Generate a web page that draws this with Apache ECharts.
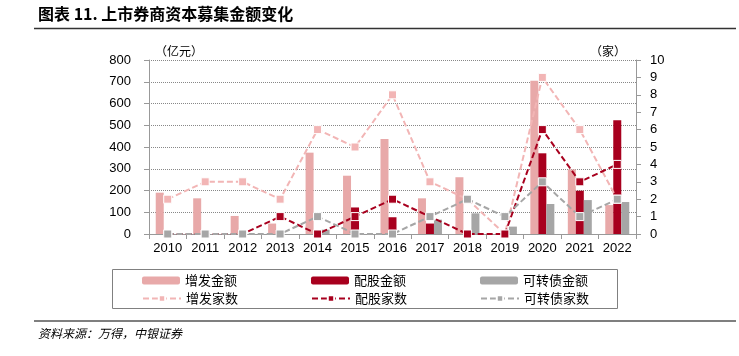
<!DOCTYPE html>
<html><head><meta charset="utf-8">
<script src="https://cdn.jsdelivr.net/npm/echarts@6/dist/echarts.min.js"></script>
<style>html,body{margin:0;padding:0;background:#fff}#c{width:739px;height:356px}</style>
</head><body><div id="c"></div>
<script>
const years = ['2010','2011','2012','2013','2014','2015','2016','2017','2018','2019','2020','2021','2022'];
const zfAmt = [190,164,83,48,374,268,437,164,261,0,705,297,133];
const pgAmt = [0,0,0,0,0,122,77,48,0,0,371,199,523];
const kzzAmt = [0,0,0,0,20,0,0,66,95,34,138,156,147];
const zfCnt = [2,3,3,2,6,5,8,3,2,0,9,6,2];
const pgCnt = [0,0,0,1,0,1,2,1,0,0,6,3,4];
const kzzCnt = [0,0,0,0,1,0,0,1,2,1,3,1,2];
const leftTicks = {min:0,max:800,interval:100};
const rightTicks = {min:0,max:10,interval:1};

const C_PINK_BAR='#E8A9A9', C_PINK_LINE='#F2B5B5', C_RED='#A8001E', C_GRAY='#A6A6A6';
const CJK='"Noto Sans CJK SC", sans-serif';
const NUM='"Liberation Sans", Arial, sans-serif';

function lineSeries(name,data,color){
  return {name,type:'line',yAxisIndex:1,data,symbol:'rect',symbolSize:8,
    lineStyle:{color,width:2,type:[6,3]},
    itemStyle:{color,borderColor:'#fff',borderWidth:1},z:3,animation:false};
}
function barSeries(name,data,color){
  return {name,type:'bar',yAxisIndex:0,data,barWidth:8,barGap:'0%',itemStyle:{color},animation:false};
}
function leg(name,left,top){
  return {data:[name],left,top,itemWidth:38,itemHeight:8,itemGap:0,padding:0,
    textStyle:{fontFamily:CJK,fontSize:13,color:'#000'}};
}
const chart = echarts.init(document.getElementById('c'));
chart.setOption({
  animation:false,
  grid:{left:149,right:103,top:60,bottom:122},
  xAxis:{type:'category',data:years,boundaryGap:true,
    axisLine:{lineStyle:{color:'#999'}},
    axisTick:{show:true,length:5,interval:0,lineStyle:{color:'#999'}},
    axisLabel:{fontFamily:NUM,fontSize:13,color:'#000',margin:8,interval:0}},
  yAxis:[
    {type:'value',...leftTicks,
      axisLine:{show:true,lineStyle:{color:'#999'}},
      axisTick:{show:true,length:5,lineStyle:{color:'#999'}},
      axisLabel:{fontFamily:NUM,fontSize:13,color:'#000',margin:18},
      splitLine:{show:true,lineStyle:{color:'#888',type:'dotted',width:1}}},
    {type:'value',...rightTicks,
      axisLine:{show:true,lineStyle:{color:'#999'}},
      axisTick:{show:true,length:5,lineStyle:{color:'#999'}},
      axisLabel:{fontFamily:NUM,fontSize:13,color:'#000',margin:14},
      splitLine:{show:false}}
  ],
  legend:[
    leg('增发金额',142,274), leg('配股金额',311,274), leg('可转债金额',480,274),
    leg('增发家数',142,292), leg('配股家数',311,292), leg('可转债家数',480,292)
  ],
  series:[
    barSeries('增发金额',zfAmt,C_PINK_BAR),
    barSeries('配股金额',pgAmt,C_RED),
    barSeries('可转债金额',kzzAmt,C_GRAY),
    lineSeries('增发家数',zfCnt,C_PINK_LINE),
    lineSeries('配股家数',pgCnt,C_RED),
    lineSeries('可转债家数',kzzCnt,C_GRAY)
  ],
  graphic:[
    {type:'text',left:38,top:6,style:{text:'图表 11. 上市券商资本募集金额变化',font:'bold 16px '+CJK,fill:'#000'}},
    {type:'line',shape:{x1:34,y1:28.5,x2:736,y2:28.5},style:{stroke:'#333',lineWidth:1.5}},
    {type:'text',left:155,top:45,style:{text:'（亿元）',font:'12px '+CJK,fill:'#000'}},
    {type:'text',left:590,top:45,style:{text:'（家）',font:'12px '+CJK,fill:'#000'}},
    {type:'rect',shape:{x:112.5,y:269.5,width:505,height:39},style:{fill:'none',stroke:'#808080',lineWidth:1},z:-1},
    {type:'line',shape:{x1:34,y1:321,x2:736,y2:321},style:{stroke:'#555',lineWidth:1.5}},
    {type:'text',left:38,top:327,style:{text:'资料来源：万得，中银证券',font:'italic 12px '+CJK,fill:'#000'}}
  ]
});
</script></body></html>
